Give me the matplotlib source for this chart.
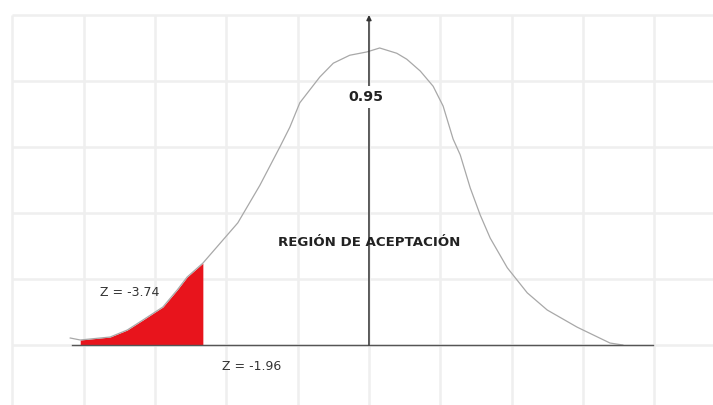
import numpy as np
import matplotlib.pyplot as plt

# hand-drawn normal curve (x in z-ish grid units, y in grid units)
z = np.array([-4.19, -4.05, -3.63, -3.39, -3.17, -2.89, -2.69, -2.55, -2.33,
              -1.84, -1.53, -1.25, -1.11, -0.97, -0.69, -0.50, -0.27, -0.03,
              0.15, 0.39, 0.53, 0.72, 0.90, 1.04, 1.18, 1.28, 1.42, 1.56,
              1.70, 1.94, 2.22, 2.50, 2.92, 3.38, 3.56])
dens = np.array([0.106, 0.076, 0.121, 0.227, 0.379, 0.576, 0.833, 1.03, 1.24,
                 1.85, 2.42, 3.00, 3.30, 3.67, 4.06, 4.27, 4.39, 4.44,
                 4.50, 4.42, 4.33, 4.15, 3.92, 3.62, 3.12, 2.88, 2.38, 1.97,
                 1.62, 1.17, 0.79, 0.53, 0.27, 0.03, 0.0])

tail_start = -4.05
tail_end = -2.33
grid_x = np.arange(-5, 5)
grid_y = np.arange(0, 6)

fig = plt.figure(figsize=(7.13, 4.05), dpi=100)
ax = fig.add_axes([0, 0, 1, 1])
ax.set_xlim(-5.175, 4.825)
ax.set_ylim(-0.909, 5.227)
ax.axis('off')

# very faint grid
ax.vlines(grid_x, -0.909, 5, color='#efefef', lw=1.8, zorder=0)
ax.hlines(grid_y, -5, 4.825, color='#efefef', lw=1.8, zorder=0)

# rejection tail in red
mask = (z >= tail_start) & (z <= tail_end)
ax.fill_between(z[mask], 0, dens[mask], color='#e8141c', lw=0, zorder=2)

# curve
ax.plot(z, dens, color='#a8a8a8', lw=0.9, zorder=3)

# baseline and vertical arrow
ax.plot([-4.17, 3.98], [0, 0], color='#555555', lw=1.0, zorder=3)
ax.annotate('', xy=(0, 5.0), xytext=(0, 0),
            arrowprops=dict(arrowstyle='-|>', color='#333333', lw=1.1,
                            mutation_scale=7, shrinkA=0, shrinkB=0), zorder=4)

ax.text(-0.05, 3.76, '0.95', ha='center', va='center', fontsize=10.2,
        fontweight='bold', family='DejaVu Sans', color='#222222', zorder=5,
        bbox=dict(facecolor='white', edgecolor='none', pad=3))
ax.text(0.0, 1.55, 'REGIÓN DE ACEPTACIÓN', ha='center', va='center',
        fontsize=9.6, fontweight='bold', family='DejaVu Sans', color='#222222', zorder=5)
ax.text(-3.77, 0.79, 'Z = -3.74', ha='left', va='center', fontsize=9,
        family='DejaVu Sans', color='#333333', zorder=5)
ax.text(-2.06, -0.32, 'Z = -1.96', ha='left', va='center', fontsize=9,
        family='DejaVu Sans', color='#333333', zorder=5)

fig.savefig('out.png', dpi=100)
